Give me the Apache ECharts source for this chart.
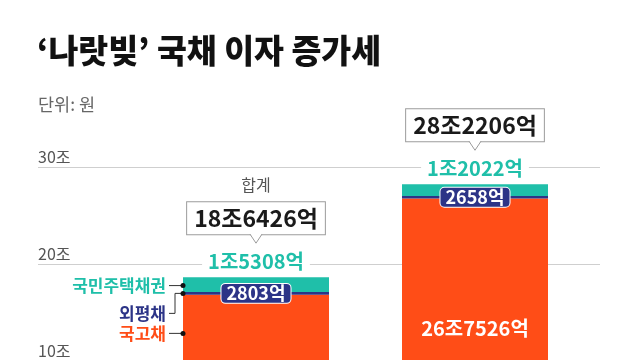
<!DOCTYPE html>
<html>
<head>
<meta charset="utf-8">
<script src="https://cdn.jsdelivr.net/npm/echarts@6/dist/echarts.min.js"></script>
<style>
  html, body { margin: 0; padding: 0; background: #fff; overflow: hidden; }
  /* 원본은 아래쪽이 잘려 있으므로 차트를 화면보다 길게 그린다 */
  #main { width: 640px; height: 470px; }
</style>
</head>
<body>
<div id="main"></div>
<script>
// 단위: 조원
var categories = ['2022년', '2023년']
var gukgo = [16.8315, 26.7526]      // 국고채
var oepyeong = [0.2803, 0.2658]     // 외평채
var gukmin = [1.5308, 1.2022]       // 국민주택채권
var totalTags = ['합계', '']
var yTicks = [0, 10, 20, 30]

var ORANGE = '#ff4d17'
var NAVY = '#2c3487'
var TEAL = '#1fbfa9'
var FONT = '"Noto Sans CJK KR", "Noto Sans", sans-serif'

// 1.5308 -> 1조5308억
function fmt(v) {
  var eok = Math.round(v * 10000)
  var jo = Math.floor(eok / 10000)
  var rest = eok % 10000
  return (jo ? jo + '조' : '') + (rest ? rest + '억' : '')
}

var myChart = echarts.init(document.getElementById('main'))
var option = {
  animation: false,
  backgroundColor: '#fff',
  textStyle: { fontFamily: FONT },
  title: [
    {
      text: '‘나랏빚’ 국채 이자 증가세',
      left: 32,
      top: 29,
      textStyle: { fontFamily: FONT, fontSize: 32.5, fontWeight: 900, color: '#111' }
    },
    {
      text: '단위: 원',
      left: 33,
      top: 91,
      textStyle: { fontFamily: FONT, fontSize: 17.5, fontWeight: 'normal', color: '#666' }
    }
  ],
  grid: [
    { left: 38, right: 40, top: 167, bottom: 12 },
    { left: 146.5, right: 55.5, top: 167, bottom: 12 }
  ],
  xAxis: [
    { type: 'category', gridIndex: 0, data: categories, show: false },
    { type: 'category', gridIndex: 1, data: categories, show: false }
  ],
  yAxis: [
    {
      type: 'value',
      gridIndex: 0,
      min: yTicks[0],
      max: yTicks[yTicks.length - 1],
      interval: 10,
      axisLine: { show: false },
      axisTick: { show: false },
      splitLine: { lineStyle: { color: '#cfcfcf', width: 1 } },
      axisLabel: {
        inside: true,
        margin: 0,
        align: 'left',
        verticalAlign: 'bottom',
        padding: [0, 0, 2, 0],
        fontFamily: FONT,
        fontSize: 16,
        color: '#555',
        formatter: function (v) { return v ? v + '조' : '' }
      }
    },
    {
      type: 'value',
      gridIndex: 1,
      min: yTicks[0],
      max: yTicks[yTicks.length - 1],
      show: false,
      splitLine: { show: false }
    }
  ],
  series: [
    {
      name: '국고채',
      type: 'bar',
      stack: 'total',
      xAxisIndex: 1,
      yAxisIndex: 1,
      barWidth: 146,
      data: gukgo,
      itemStyle: { color: ORANGE },
      label: {
        show: true,
        position: 'inside',
        color: '#fff',
        fontFamily: FONT,
        fontSize: 20,
        fontWeight: 'bold',
        formatter: function (p) { return fmt(p.value) }
      }
    },
    {
      name: '외평채',
      type: 'bar',
      stack: 'total',
      xAxisIndex: 1,
      yAxisIndex: 1,
      barWidth: 146,
      data: oepyeong,
      itemStyle: { color: NAVY },
      label: {
        show: true,
        position: 'inside',
        color: '#fff',
        fontFamily: FONT,
        fontSize: 18,
        fontWeight: 'bold',
        backgroundColor: NAVY,
        borderColor: '#fff',
        borderWidth: 1,
        borderRadius: 4,
        padding: [1, 5, 0, 5],
        formatter: function (p) { return fmt(p.value) }
      }
    },
    {
      name: '국민주택채권',
      type: 'bar',
      stack: 'total',
      xAxisIndex: 1,
      yAxisIndex: 1,
      barWidth: 146,
      data: gukmin,
      itemStyle: { color: TEAL },
      label: {
        show: true,
        position: 'top',
        distance: 6,
        color: TEAL,
        fontFamily: FONT,
        fontSize: 20,
        fontWeight: 'bold',
        backgroundColor: '#fff',
        padding: [0, 6],
        formatter: function (p) { return fmt(p.value) }
      }
    }
  ]
}
myChart.setOption(option)

// 합계 상자와 왼쪽 항목 주석
var graphics = []
categories.forEach(function (c, i) {
  var total = gukgo[i] + oepyeong[i] + gukmin[i]
  var pt = myChart.convertToPixel({ seriesIndex: 2 }, [i, total])
  var cx = pt[0]
  var boxBottom = pt[1] - 43
  graphics.push({
    type: 'text',
    x: cx,
    y: boxBottom,
    style: {
      text: fmt(total),
      align: 'center',
      verticalAlign: 'bottom',
      fontFamily: FONT,
      fontSize: 23,
      fontWeight: 'bold',
      lineHeight: 25,
      fill: '#1a1a1a',
      backgroundColor: '#fff',
      borderColor: '#9c9c9c',
      borderWidth: 1,
      padding: [4, 7, 3, 7]
    }
  })
  graphics.push({
    type: 'polygon',
    shape: { points: [[cx - 6, boxBottom - 1], [cx, boxBottom + 9], [cx + 6, boxBottom - 1]] },
    style: { fill: '#fff' }
  })
  graphics.push({
    type: 'polyline',
    shape: { points: [[cx - 6, boxBottom], [cx, boxBottom + 9], [cx + 6, boxBottom]] },
    style: { stroke: '#9c9c9c', lineWidth: 1, fill: null }
  })
  if (totalTags[i]) {
    graphics.push({
      type: 'text',
      x: cx,
      y: boxBottom - 49,
      style: {
        text: totalTags[i],
        align: 'center',
        verticalAlign: 'middle',
        fontFamily: FONT,
        fontSize: 16,
        fill: '#555'
      }
    })
  }
})

// 첫 번째 막대 왼쪽의 항목 이름
var barLeft = myChart.convertToPixel({ seriesIndex: 0 }, [0, 0])[0] - 73
var yTeal = myChart.convertToPixel({ seriesIndex: 2 }, [0, gukgo[0] + oepyeong[0] + gukmin[0] / 2])[1]
var yNavy = myChart.convertToPixel({ seriesIndex: 1 }, [0, gukgo[0] + oepyeong[0] / 2])[1]
var tagItems = [
  { text: '국민주택채권', color: TEAL, y: yTeal + 1, dotY: yTeal + 1 },
  { text: '외평채', color: NAVY, y: yNavy + 20, dotY: yNavy },
  { text: '국고채', color: ORANGE, y: yNavy + 40, dotY: yNavy + 40 }
]
tagItems.forEach(function (t) {
  graphics.push({
    type: 'text',
    x: barLeft - 17,
    y: t.y,
    style: {
      text: t.text,
      align: 'right',
      verticalAlign: 'middle',
      fontFamily: FONT,
      fontSize: 17,
      fontWeight: 'bold',
      fill: t.color
    }
  })
  var pts = t.y === t.dotY
    ? [[barLeft - 14, t.y], [barLeft, t.y]]
    : [[barLeft - 14, t.y], [barLeft - 8, t.y], [barLeft - 8, t.dotY], [barLeft, t.dotY]]
  graphics.push({
    type: 'polyline',
    shape: { points: pts },
    style: { stroke: '#333', lineWidth: 1, fill: null }
  })
  graphics.push({
    type: 'circle',
    shape: { cx: barLeft, cy: t.dotY, r: 2.5 },
    style: { fill: '#111' },
    z: 10
  })
})
myChart.setOption({ graphic: graphics })
</script>
</body>
</html>
